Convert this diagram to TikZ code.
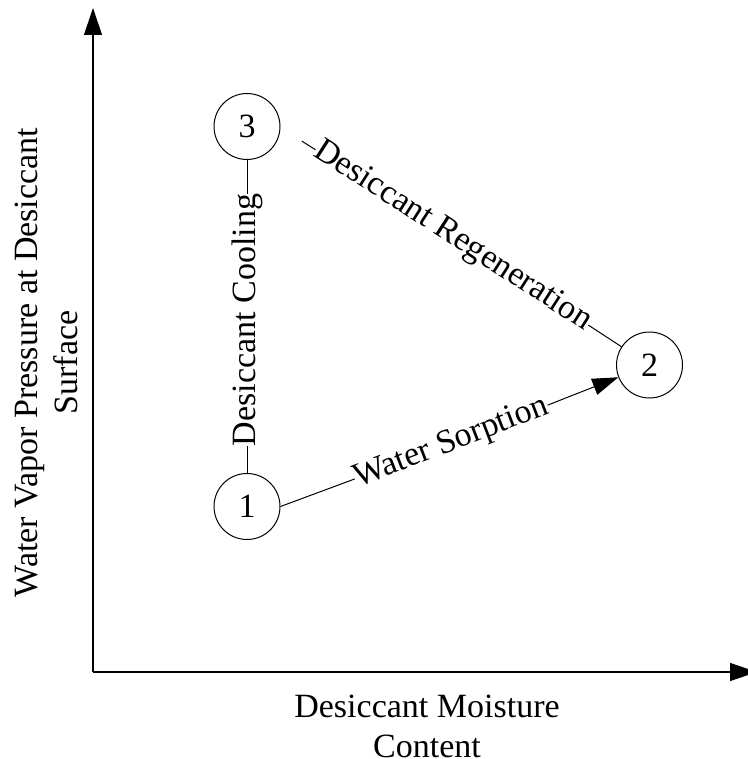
\documentclass[tikz,border=0pt]{standalone}
\usepackage{fontspec}
\setmainfont{Liberation Serif}
\usetikzlibrary{arrows.meta,calc}
\begin{document}
\begin{tikzpicture}[x=1pt,y=-1pt,
  every node/.style={font=\fontsize{34}{40}\selectfont},
  state/.style={circle,draw,line width=1pt,minimum size=66pt,inner sep=0pt},
  edgelabel/.style={inner sep=0pt},
  axis/.style={line width=1.1pt,-{Triangle[length=27pt,width=18pt]}},
  conn/.style={line width=1pt},
  sorparrow/.style={line width=1pt,-{Triangle[length=26pt,width=17pt]}}]
\useasboundingbox (0,0) rectangle (747,759);
% axes
\coordinate (o) at (93,672);
\coordinate (ytip) at (93,8);
\coordinate (xtip) at (757,672);
\draw[axis] (o) -- (ytip);
\draw[axis] (o) -- (xtip);
% axis labels
\node[align=center,anchor=north] (xl) at (427,691) {Desiccant Moisture\\Content};
\node[align=center,rotate=90] (yl) at (46,362.5) {Water Vapor Pressure at Desiccant\\Surface};
% states
\node[state] (s3) at (247,126.5) {3};
\node[state] (s1) at (247,506.5) {1};
\node[state] (s2) at (649.5,365) {2};
% desiccant cooling
\node[edgelabel,rotate=90] (lc) at (247,320) {Desiccant Cooling};
\draw[conn] (s3) -- (lc) -- (s1);
% regeneration
\coordinate (r0) at (302,141.2);
\node[edgelabel,rotate=-32.8] (lr) at (452.5,236.5) {Desiccant Regeneration};
\draw[conn] (r0) -- (lr) -- (s2);
% water sorption
\node[edgelabel,rotate=21] (lw) at (451.5,443) {Water Sorption};
\draw[conn] (s1.east) -- (lw);
\draw[sorparrow] (lw) -- (s2);
\end{tikzpicture}
\end{document}
